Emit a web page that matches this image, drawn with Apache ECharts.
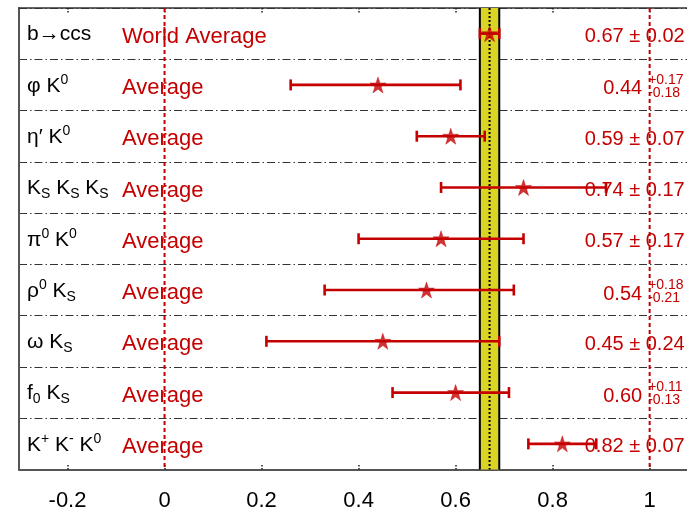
<!DOCTYPE html>
<html>
<head>
<meta charset="utf-8">
<script src="https://cdn.jsdelivr.net/npm/echarts@6/dist/echarts.min.js"></script>
<style>
  html, body { margin: 0; padding: 0; background: #fff; }
  #chart { width: 687px; height: 510px; }
</style>
</head>
<body>
<div id="chart"></div>
<script>
// Decay channels (rich-text markup for sub/superscripts)
const channels = [
  '{m|b→ccs}',
  '{m|φ K}{p|0}',
  '{m|η′ K}{p|0}',
  '{m|K}{b|S}{m| K}{b|S}{m| K}{b|S}',
  '{m|π}{p|0}{m| K}{p|0}',
  '{m|ρ}{p|0}{m| K}{b|S}',
  '{m|ω K}{b|S}',
  '{m|f}{b|0}{m| K}{b|S}',
  '{m|K}{p|+}{m| K}{p|-}{m| K}{p|0}'
];
const tags = ['World Average', 'Average', 'Average', 'Average', 'Average',
              'Average', 'Average', 'Average', 'Average'];

// sin(2β_eff) averages with upper / lower uncertainties
const central   = [0.67, 0.44, 0.59, 0.74, 0.57, 0.54, 0.45, 0.60, 0.82];
const errUp     = [0.02, 0.17, 0.07, 0.17, 0.17, 0.18, 0.24, 0.11, 0.07];
const errDown   = [0.02, 0.18, 0.07, 0.17, 0.17, 0.21, 0.24, 0.13, 0.07];
const centralText = ['0.67', '0.44', '0.59', '0.74', '0.57', '0.54', '0.45', '0.60', '0.82'];
const upText      = ['0.02', '0.17', '0.07', '0.17', '0.17', '0.18', '0.24', '0.11', '0.07'];
const downText    = ['0.02', '0.18', '0.07', '0.17', '0.17', '0.21', '0.24', '0.13', '0.07'];

// Reference lines and axis ticks
const refLines = [0, 1];
const xTicks = [-0.2, 0, 0.2, 0.4, 0.6, 0.8, 1];
const X_MIN = -0.3, X_MAX = 1.077;

const RED = '#c40000';
const FONT = '"Liberation Sans", Arial, sans-serif';
const STAR = 'path://M50,0 L62,35 L99,35 L69,57 L81,93 L50,71 L19,93 L31,57 L1,35 L38,35 Z';

const nRows = channels.length;
const rowIdx = channels.map((_, i) => [i]);

const richLeft = {
  m: { fontSize: 21, fontFamily: FONT, fill: '#000', lineHeight: 26, verticalAlign: 'middle' },
  p: { fontSize: 14, fontFamily: FONT, fill: '#000', lineHeight: 17, verticalAlign: 'top' },
  b: { fontSize: 14, fontFamily: FONT, fill: '#000', lineHeight: 12, verticalAlign: 'bottom' }
};

const chart = echarts.init(document.getElementById('chart'), null, { renderer: 'canvas' });

const option = {
  animation: false,
  backgroundColor: '#fff',
  grid: { left: 19, right: 0, top: 8, bottom: 40.5, outerBoundsMode: 'none' },
  xAxis: [
    {
      type: 'value', position: 'bottom', min: X_MIN, max: X_MAX,
      axisLine: { show: true, onZero: false, lineStyle: { color: '#555', width: 2 } },
      axisTick: { show: true, inside: true, length: 5, customValues: xTicks,
                  lineStyle: { color: '#222', width: 1.5, type: [1.5, 1.5] } },
      axisLabel: { show: true, customValues: xTicks, fontSize: 22, fontFamily: FONT,
                   color: '#000', margin: 20, formatter: v => String(+v.toFixed(1)) },
      splitLine: { show: false }
    },
    {
      type: 'value', position: 'top', min: X_MIN, max: X_MAX,
      axisLine: { show: true, onZero: false, lineStyle: { color: '#333', width: 1.5 } },
      axisTick: { show: true, inside: true, length: 5, customValues: xTicks,
                  lineStyle: { color: '#222', width: 1.5, type: [1.5, 1.5] } },
      axisLabel: { show: false },
      splitLine: { show: false }
    }
  ],
  yAxis: {
    type: 'value', min: 0, max: nRows, interval: 1, inverse: true,
    axisLine: { show: true, onZero: false, lineStyle: { color: '#555', width: 2 } },
    axisTick: { show: false },
    axisLabel: { show: false },
    splitLine: { show: true, lineStyle: { color: '#333', width: 1, type: [8, 3, 1.5, 3] } }
  },
  series: [
    // world-average band
    {
      type: 'custom', z: 1, silent: true,
      data: [[central[0], errDown[0], errUp[0]]],
      encode: { x: 0 },
      renderItem(params, api) {
        const c = api.value(0);
        const lo = api.coord([c - api.value(1), 0]);
        const hi = api.coord([c + api.value(2), nRows]);
        const mid = api.coord([c, 0]);
        return {
          type: 'group',
          children: [
            { type: 'rect', shape: { x: lo[0], y: lo[1], width: hi[0] - lo[0], height: hi[1] - lo[1] },
              style: { fill: '#dad524' } },
            { type: 'line', shape: { x1: lo[0], y1: lo[1], x2: lo[0], y2: hi[1] },
              style: { stroke: '#000', lineWidth: 2 } },
            { type: 'line', shape: { x1: hi[0], y1: lo[1], x2: hi[0], y2: hi[1] },
              style: { stroke: '#000', lineWidth: 2 } },
            { type: 'line', shape: { x1: mid[0], y1: lo[1], x2: mid[0], y2: hi[1] },
              style: { stroke: '#000', lineWidth: 2, lineDash: [2, 2] } }
          ]
        };
      }
    },
    // channel names, tags and values
    {
      type: 'custom', z: 2, silent: true,
      data: rowIdx,
      encode: { y: 0 },
      renderItem(params, api) {
        const i = api.value(0);
        const yc = api.coord([0, i + 0.5])[1];
        const xL = api.coord([X_MIN, 0])[0];
        const x1 = api.coord([1, 0])[0];
        const kids = [
          { type: 'text', x: xL + 8, y: yc + 1,
            style: { text: channels[i], rich: richLeft, align: 'left', verticalAlign: 'middle' } },
          { type: 'text', x: xL + 103, y: yc + 3,
            style: { text: tags[i], fill: RED, fontSize: 22, fontFamily: FONT,
                     align: 'left', verticalAlign: 'middle' } }
        ];
        if (upText[i] === downText[i]) {
          kids.push({ type: 'text', x: x1 + 35, y: yc + 3,
            style: { text: centralText[i] + ' ± ' + upText[i], fill: RED, fontSize: 20,
                     fontFamily: FONT, align: 'right', verticalAlign: 'middle' } });
        } else {
          kids.push({ type: 'text', x: x1 - 7.5, y: yc + 4,
            style: { text: centralText[i], fill: RED, fontSize: 20, fontFamily: FONT,
                     align: 'right', verticalAlign: 'middle' } });
          kids.push({ type: 'text', x: x1 - 1.5, y: yc - 5,
            style: { text: '+' + upText[i], fill: RED, fontSize: 14, fontFamily: FONT,
                     align: 'left', verticalAlign: 'middle' } });
          kids.push({ type: 'text', x: x1 - 1.5, y: yc + 8,
            style: { text: '-' + downText[i], fill: RED, fontSize: 14, fontFamily: FONT,
                     align: 'left', verticalAlign: 'middle' } });
        }
        return { type: 'group', children: kids };
      }
    },
    // dashed reference lines at 0 and 1
    {
      type: 'custom', z: 3, silent: true,
      data: refLines.map(v => [v]),
      encode: { x: 0 },
      renderItem(params, api) {
        const a = api.coord([api.value(0), 0]);
        const b = api.coord([api.value(0), nRows]);
        return { type: 'line', shape: { x1: a[0], y1: a[1], x2: b[0], y2: b[1] },
                 style: { stroke: RED, lineWidth: 2, lineDash: [4, 3] } };
      }
    },
    // asymmetric error bars
    {
      type: 'custom', z: 4, silent: true,
      data: central.map((c, i) => [c, i + 0.5, errDown[i], errUp[i]]),
      encode: { x: 0, y: 1 },
      renderItem(params, api) {
        const c = api.value(0), y = api.value(1);
        const p0 = api.coord([c - api.value(2), y]);
        const p1 = api.coord([c + api.value(3), y]);
        const cap = 5.5;
        return {
          type: 'group',
          children: [
            { type: 'line', shape: { x1: p0[0], y1: p0[1], x2: p1[0], y2: p1[1] },
              style: { stroke: RED, lineWidth: 2.6 } },
            { type: 'line', shape: { x1: p0[0], y1: p0[1] - cap, x2: p0[0], y2: p0[1] + cap },
              style: { stroke: RED, lineWidth: 2.6 } },
            { type: 'line', shape: { x1: p1[0], y1: p1[1] - cap, x2: p1[0], y2: p1[1] + cap },
              style: { stroke: RED, lineWidth: 2.6 } }
          ]
        };
      }
    },
    // central values
    {
      type: 'scatter', z: 5, silent: true,
      symbol: STAR, symbolSize: 16,
      itemStyle: { color: RED, borderColor: RED, borderWidth: 0.5 },
      data: central.map((c, i) => [c, i + 0.5])
    }
  ]
};

chart.setOption(option);
</script>
</body>
</html>
